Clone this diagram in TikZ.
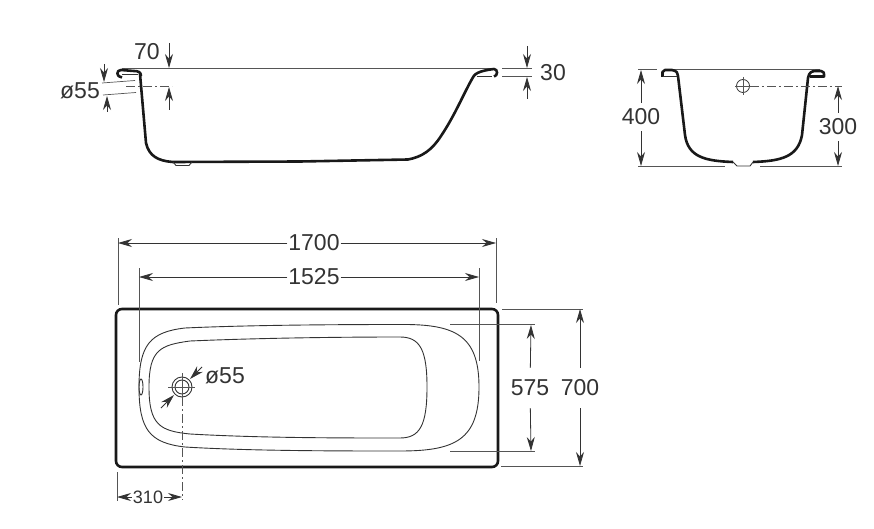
\documentclass[tikz,border=0pt]{standalone}
\usepackage{fontspec}
\setmainfont{Liberation Sans}
\usetikzlibrary{arrows.meta,positioning,calc}
\definecolor{inkgrey}{HTML}{333333}
\definecolor{thingrey}{HTML}{555555}
\tikzstyle{dim} = [draw=none, text=inkgrey, inner sep=0pt, outer xsep=1pt, outer ysep=1pt, font=\fontsize{23}{26}\selectfont]
\tikzstyle{smalldim} = [dim, font=\fontsize{18}{20}\selectfont]
\tikzstyle{arrow} = [line width=0.8pt, draw=inkgrey, -{Stealth[length=14pt,width=8pt]}]
\tikzstyle{guide} = [line width=0.7pt, draw=thingrey]
\tikzstyle{axis} = [line width=0.7pt, draw=thingrey, dash pattern=on 9pt off 3pt on 2pt off 3pt]
\tikzstyle{body} = [line width=2.6pt, draw=black!90, line join=round]
\tikzstyle{bowl} = [line width=0.9pt, draw=inkgrey]
\begin{document}
\begin{tikzpicture}[x=1pt,y=-1pt]
\useasboundingbox (0,0) rectangle (874,529);

% side view
\draw[guide] (122,68.5) -- (495,68.5);
\draw[body] (141,76) .. controls (141,72) and (138,71) .. (134,71) -- (121,70)
  .. controls (116,70) and (116,77) .. (122,77.5);
\draw[bowl] (122,74.5) -- (138,74.5);
\draw[body] (140,74) -- (146,143) .. controls (149,156) and (158,161) .. (173,162)
  -- (300,161.5) -- (408,159.5) .. controls (422,157) and (432,150) .. (441,136)
  .. controls (455,115) and (463,95) .. (472,79) .. controls (474,74) and (478,71) .. (494,69)
  .. controls (498,69) and (498,76) .. (494,76.5);
\draw[bowl] (477,76.5) -- (492,76.5);
\draw[bowl] (173,162) -- (176,165.5) -- (189,165.5) -- (192,162);
\draw[guide] (102,83) -- (135,80.5);
\draw[guide] (103,95) -- (136,92.5);
\coordinate (sidehole) at (126,86);
\coordinate (sideholeend) at (172,86);
\draw[axis] (sidehole) -- (sideholeend);

\node[dim] (dimA) at (147,52) {70};
\coordinate (dimAtop) at (169,43);
\coordinate (dimAend) at (169,68);
\coordinate (dimAlow) at (169,110);
\coordinate (dimAback) at (169,87);
\draw[arrow] (dimAtop) -- (dimAend);
\draw[arrow] (dimAlow) -- (dimAback);

\node[dim] (dimB) at (80,91) {ø55};
\coordinate (dimBtop) at (104,64);
\coordinate (dimBend) at (104,82);
\coordinate (dimBlow) at (107,112);
\coordinate (dimBback) at (107,96);
\draw[arrow] (dimBtop) -- (dimBend);
\draw[arrow] (dimBlow) -- (dimBback);

\draw[guide] (502,68.5) -- (532,68.5);
\draw[guide] (502,76.5) -- (532,76.5);
\node[dim] (dimC) at (553,73) {30};
\coordinate (dimCtop) at (527,46);
\coordinate (dimCend) at (527,68);
\coordinate (dimClow) at (527,99);
\coordinate (dimCback) at (527,77);
\draw[arrow] (dimCtop) -- (dimCend);
\draw[arrow] (dimClow) -- (dimCback);

% end view
\draw[guide] (665,69) -- (820,69);
\draw[guide] (638,69.5) -- (657,69.5);
\draw[guide] (638,166) -- (725,166);
\draw[guide] (760,166) -- (842,166);
\draw[body] (662.5,77) -- (662.5,72) -- (665,70) -- (672,70)
  .. controls (677,71) and (678,73) .. (678,76)
  -- (685,135) .. controls (688,157) and (705,161) .. (733,162);
\draw[body] (753,162) .. controls (781,161) and (798,157) .. (802,135)
  -- (808,78) .. controls (809,72) and (812,71) .. (816,71) -- (821,71)
  .. controls (824,71) and (824,73) .. (824,76.5) -- (810,76.5);
\draw[bowl] (663,76.5) -- (677,76.5);
\draw[bowl] (733,162) -- (737,166) -- (750,166) -- (753,162);
\node[circle,draw=inkgrey,line width=0.8pt,minimum size=13pt,inner sep=0pt] (endhole) at (743,86) {};
\draw[guide] (735,86) -- (751,86);
\draw[guide] (743,77) -- (743,95);
\coordinate (endaxis) at (842,86);
\draw[axis] (endhole) -- (endaxis);

\node[dim,outer ysep=6pt] (dimD) at (641,117) {400};
\coordinate (dimDa) at (641,70);
\coordinate (dimDb) at (641,166);
\draw[arrow] (dimD) -- (dimDa);
\draw[arrow] (dimD) -- (dimDb);

\node[dim,outer ysep=6pt] (dimE) at (838,127) {300};
\coordinate (dimEa) at (838,86);
\coordinate (dimEb) at (838,166);
\draw[arrow] (dimE) -- (dimEa);
\draw[arrow] (dimE) -- (dimEb);

% plan view
\draw[line width=2.6pt,draw=black!90,rounded corners=6pt] (116,309) rectangle (498,467);
\draw[bowl] (139,387) .. controls (139,345) and (150,332) .. (185,328)
  .. controls (250,325) and (340,324.5) .. (400,324.5)
  .. controls (455,324) and (479,335) .. (479,387)
  .. controls (479,440) and (455,451) .. (400,451)
  .. controls (340,451) and (250,451) .. (185,447)
  .. controls (150,443) and (139,430) .. (139,387) -- cycle;
\draw[bowl] (149,387) .. controls (149,350) and (160,345) .. (190,341)
  .. controls (260,338) and (340,337) .. (400,337)
  .. controls (420,337) and (427,350) .. (427,387)
  .. controls (427,425) and (420,438) .. (400,438)
  .. controls (340,438) and (260,438) .. (190,434)
  .. controls (160,431) and (149,425) .. (149,387) -- cycle;
\draw[bowl] (141,387) ellipse (2pt and 8pt);

\node[circle,draw=inkgrey,line width=0.9pt,minimum size=20pt,inner sep=0pt] (plug) at (182,387) {};
\draw[bowl] (plug.center) circle (7pt);
\draw[guide] (168,387) -- (195,387);
\draw[guide] (182,373) -- (182,397);
\coordinate (plugend) at (182,500);
\draw[axis] (plug) -- (plugend);

\node[dim] (dimF) at (225,376) {ø55};
\coordinate (dimFa) at (202,367);
\coordinate (dimFb) at (190,379);
\coordinate (dimFc) at (161,408);
\coordinate (dimFd) at (174,395);
\draw[arrow] (dimFa) -- (dimFb);
\draw[arrow] (dimFc) -- (dimFd);

\node[smalldim] (dimG) at (148,497) {310};
\coordinate (dimGa) at (117,497);
\coordinate (dimGb) at (182,497);
\draw[guide] (117,472) -- (117,501);
\draw[arrow] (dimG) -- (dimGa);
\draw[arrow] (dimG) -- (dimGb);

\node[dim] (dimH) at (314,243) {1700};
\coordinate (dimHa) at (118,243);
\coordinate (dimHb) at (496,243);
\draw[guide] (118,238) -- (118,305);
\draw[guide] (496,238) -- (496,303);
\draw[arrow] (dimH) -- (dimHa);
\draw[arrow] (dimH) -- (dimHb);

\node[dim] (dimI) at (314,277) {1525};
\coordinate (dimIa) at (139,277);
\coordinate (dimIb) at (479,277);
\draw[guide] (139,268) -- (139,362);
\draw[guide] (479,268) -- (479,361);
\draw[arrow] (dimI) -- (dimIa);
\draw[arrow] (dimI) -- (dimIb);

\node[dim,outer ysep=12pt] (dimJ) at (530,388) {575};
\coordinate (dimJa) at (531,325);
\coordinate (dimJb) at (531,451);
\draw[guide] (450,324) -- (535,324);
\draw[guide] (450,451) -- (535,451);
\draw[arrow] (dimJ) -- (dimJa);
\draw[arrow] (dimJ) -- (dimJb);

\node[dim,outer ysep=12pt] (dimK) at (580,388) {700};
\coordinate (dimKa) at (580,309);
\coordinate (dimKb) at (580,466);
\draw[guide] (502,309) -- (583,309);
\draw[guide] (501,466) -- (583,466);
\draw[arrow] (dimK) -- (dimKa);
\draw[arrow] (dimK) -- (dimKb);
\end{tikzpicture}
\end{document}
